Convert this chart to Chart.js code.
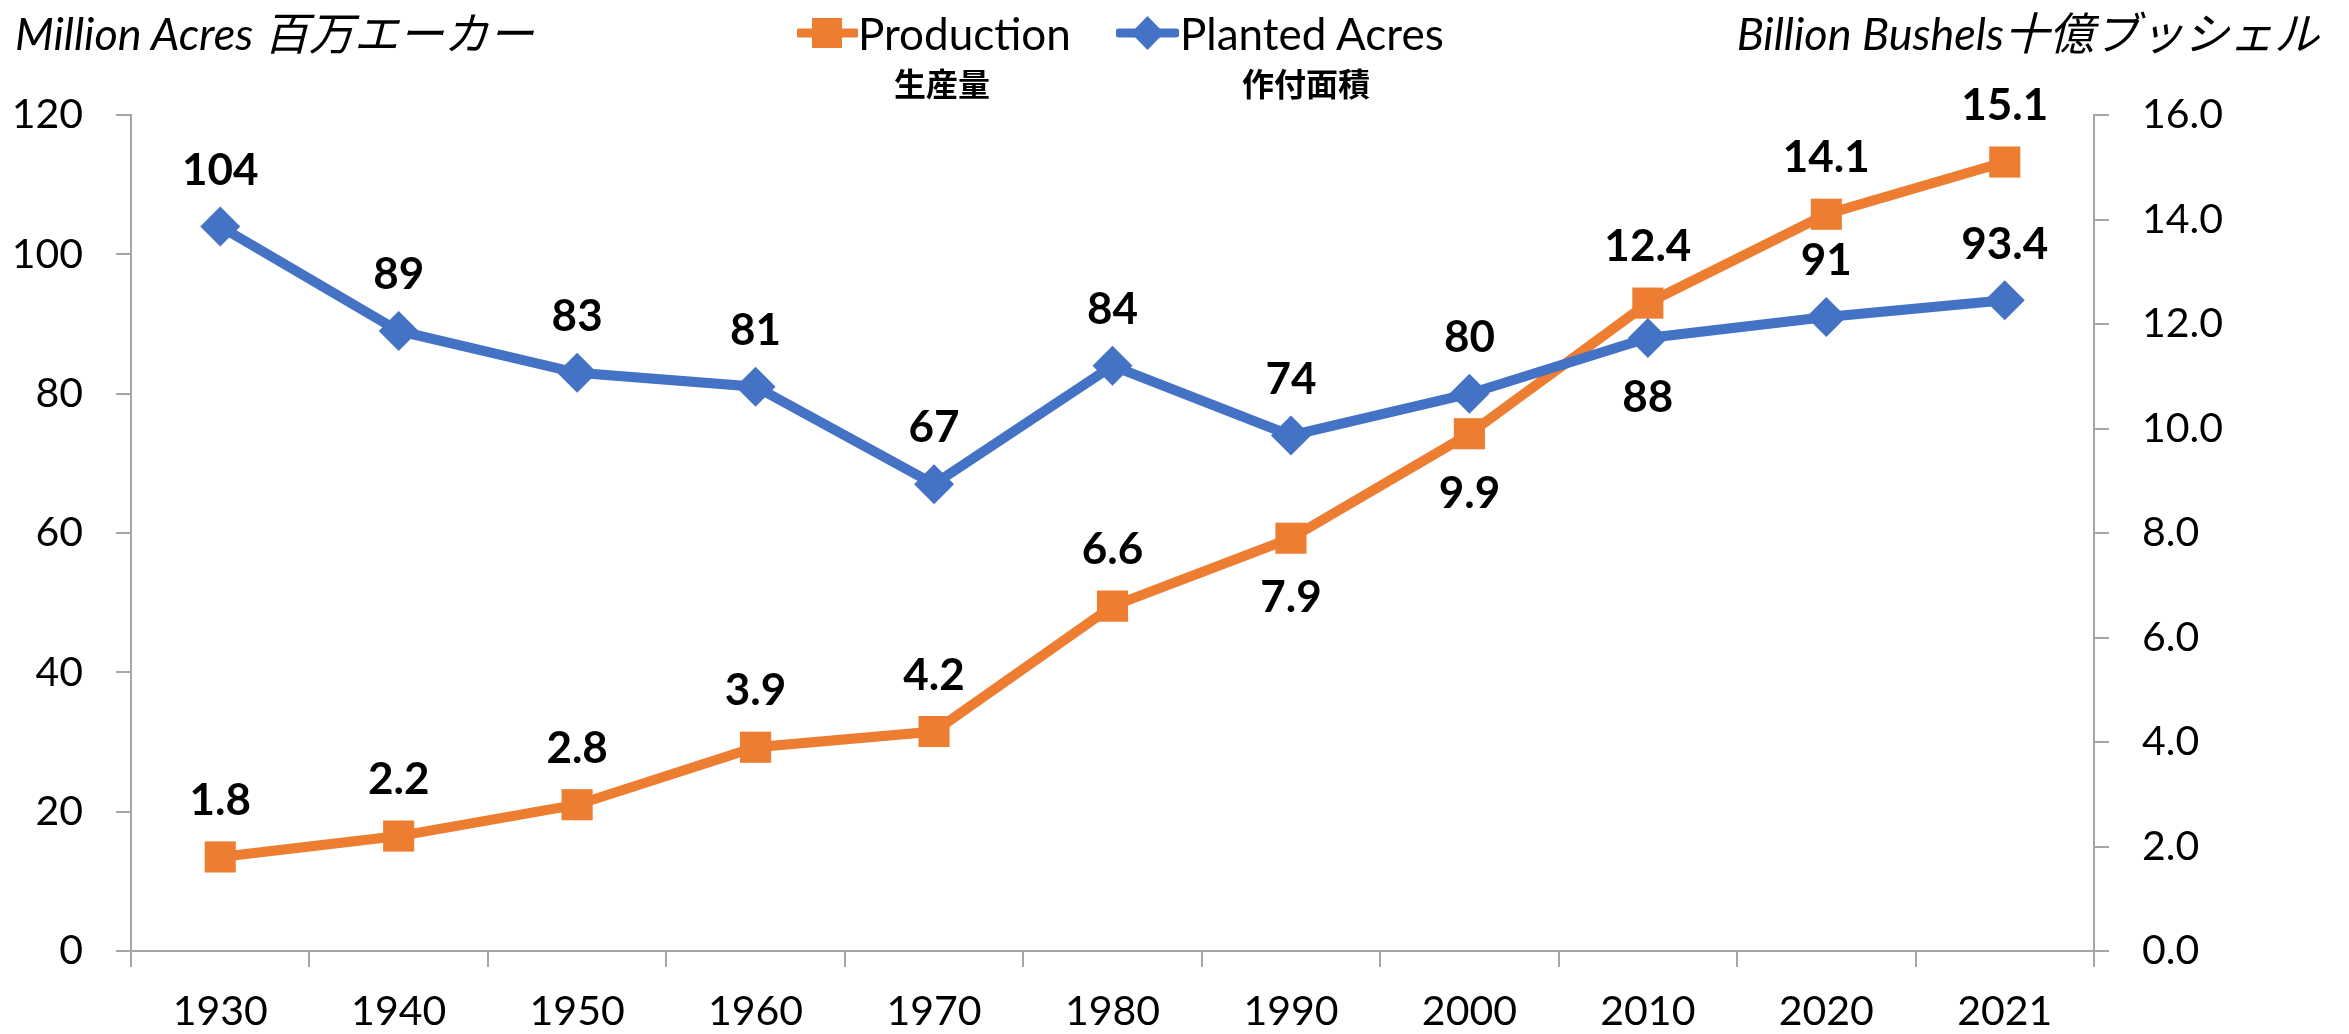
<!DOCTYPE html>
<html>
<head>
<meta charset="utf-8">
<script src="https://cdn.jsdelivr.net/npm/chart.js@4.4.1/dist/chart.umd.min.js"></script>
<style>
  html, body { margin: 0; padding: 0; background: #fff; }
  #wrap { position: relative; width: 2349px; height: 1034px; }
  #chart { position: absolute; left: 0; top: 0; }
  .txt { position: absolute; white-space: nowrap; color: #000; font-family: Lato, "Noto Sans CJK JP", sans-serif; }
  .title { font-style: italic; font-size: 45px; line-height: 46px; top: 10px; }
  .leg { font-size: 44px; line-height: 44px; top: 11px; }
  .jp { font-family: "Noto Sans CJK JP", sans-serif; font-weight: bold; font-size: 32px; line-height: 32px; top: 66px; transform: translateX(-50%); }
  .mark { position: absolute; top: 16px; }
</style>
</head>
<body>
<div id="wrap">
  <canvas id="chart" width="2349" height="1034"></canvas>
  <div class="txt title" style="left:15px">Million Acres 百万エーカー</div>
  <div class="txt title" style="right:30px">Billion Bushels十億ブッシェル</div>

  <svg class="mark" style="left:797px" width="61" height="34">
    <line x1="2" y1="17" x2="59" y2="17" stroke="#ED7D31" stroke-width="9" stroke-linecap="round"/>
    <rect x="15" y="2" width="30" height="30" fill="#ED7D31"/>
  </svg>
  <div class="txt leg" style="left:858px">Production</div>
  <div class="txt jp" style="left:942px">生産量</div>

  <svg class="mark" style="left:1116px" width="63" height="34">
    <line x1="3" y1="17" x2="60" y2="17" stroke="#4472C4" stroke-width="9" stroke-linecap="round"/>
    <polygon points="31.5,0 48,17 31.5,34 15,17" fill="#4472C4"/>
  </svg>
  <div class="txt leg" style="left:1180px">Planted Acres</div>
  <div class="txt jp" style="left:1306px">作付面積</div>
</div>
<script>
const years = ["1930", "1940", "1950", "1960", "1970", "1980", "1990", "2000", "2010", "2020", "2021"];
// billion bushels (right axis)
const production = [1.8, 2.2, 2.8, 3.9, 4.2, 6.6, 7.9, 9.9, 12.4, 14.1, 15.1];
// million acres (left axis)
const plantedAcres = [104, 89, 83, 81, 67, 84, 74, 80, 88, 91, 93.4];
const acreTicks = [0, 20, 40, 60, 80, 100, 120];
const bushelTicks = [0, 2, 4, 6, 8, 10, 12, 14, 16];

// which data labels sit under their point instead of above
const productionBelow = ["1990", "2000"];
const acresBelow = ["2010"];

const orange = "#ED7D31";
const blue = "#4472C4";
const axisGrey = "#A6A6A6";

const dataLabels = {
  id: "dataLabels",
  afterDatasetsDraw(chart) {
    const ctx = chart.ctx;
    ctx.save();
    ctx.font = "bold 44px Lato";
    ctx.fillStyle = "#000";
    ctx.textAlign = "center";
    ctx.textBaseline = "middle";
    chart.data.datasets.forEach((ds, i) => {
      const meta = chart.getDatasetMeta(i);
      meta.data.forEach((pt, j) => {
        const below = ds.labelsBelow.includes(years[j]);
        ctx.fillText(ds.fmt(ds.data[j]), pt.x, pt.y + (below ? 60 : -56));
      });
    });
    ctx.restore();
  }
};

const tickFont = { family: "Lato", size: 41 };

new Chart(document.getElementById("chart"), {
  type: "line",
  data: {
    labels: years,
    datasets: [
      {
        label: "Production",
        data: production,
        yAxisID: "y1",
        borderColor: orange,
        backgroundColor: orange,
        borderWidth: 10,
        pointStyle: "rect",
        pointRadius: 22,
        pointBorderWidth: 0,
        order: 1,
        labelsBelow: productionBelow,
        fmt: v => v.toFixed(1)
      },
      {
        label: "Planted Acres",
        data: plantedAcres,
        yAxisID: "y",
        borderColor: blue,
        backgroundColor: blue,
        borderWidth: 10,
        pointStyle: "rectRot",
        pointRadius: 20,
        pointBorderWidth: 0,
        order: 0,
        labelsBelow: acresBelow,
        fmt: v => String(v)
      }
    ]
  },
  options: {
    responsive: false,
    animation: false,
    layout: { padding: { left: 0, right: 0, top: 115, bottom: 0 } },
    plugins: {
      legend: { display: false },
      tooltip: { enabled: false }
    },
    scales: {
      x: {
        offset: true,
        afterFit: s => { s.height = 83; },
        grid: { offset: true, drawOnChartArea: false, tickLength: 16, color: axisGrey, lineWidth: 2 },
        border: { color: axisGrey, width: 2 },
        ticks: { font: tickFont, color: "#000", padding: 20, maxRotation: 0 }
      },
      y: {
        position: "left",
        min: acreTicks[0],
        max: acreTicks[acreTicks.length - 1],
        afterBuildTicks: s => { s.ticks = acreTicks.map(v => ({ value: v })); },
        afterFit: s => { s.width = 131; },
        grid: { drawOnChartArea: false, tickLength: 15, color: axisGrey, lineWidth: 2 },
        border: { color: axisGrey, width: 2 },
        ticks: { font: tickFont, color: "#000", padding: 33 }
      },
      y1: {
        position: "right",
        min: bushelTicks[0],
        max: bushelTicks[bushelTicks.length - 1],
        afterBuildTicks: s => { s.ticks = bushelTicks.map(v => ({ value: v })); },
        afterFit: s => { s.width = 255; },
        grid: { drawOnChartArea: false, tickLength: 15, color: axisGrey, lineWidth: 2 },
        border: { color: axisGrey, width: 2 },
        ticks: { font: tickFont, color: "#000", padding: 33, callback: v => Number(v).toFixed(1) }
      }
    }
  },
  plugins: [dataLabels]
});
</script>
</body>
</html>
